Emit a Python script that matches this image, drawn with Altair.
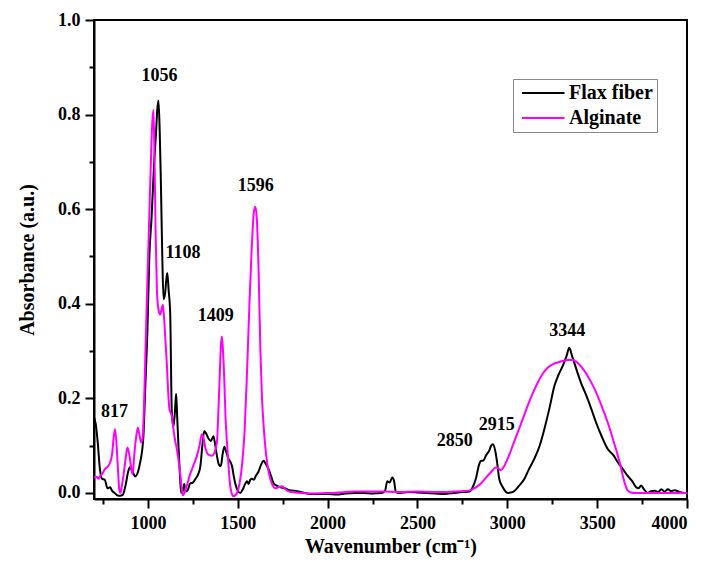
import altair as alt
import pandas as pd

# ---- data ----
flax_x = [700, 710, 720, 733, 745, 760, 775, 790, 800, 815, 830, 845, 860, 875, 890, 900, 915, 929, 945, 957,
          968, 975, 985, 997, 1008, 1020, 1035, 1045, 1052, 1059, 1066, 1072, 1080, 1087, 1095, 1102, 1108, 1115,
          1124, 1133, 1142, 1150, 1157, 1163, 1170, 1178, 1185, 1195, 1202, 1210, 1220, 1235, 1250, 1265, 1280,
          1292, 1303, 1313, 1325, 1337, 1350, 1365, 1375, 1384, 1395, 1406, 1415, 1425, 1437, 1449, 1460, 1468,
          1478, 1486, 1500, 1514, 1528, 1542, 1552, 1560, 1570, 1579, 1590, 1600, 1615, 1630, 1644, 1658, 1672,
          1686, 1700, 1720, 1737, 1760, 1790, 1812, 1850, 1900, 1950, 2000, 2050, 2100, 2150, 2200, 2250, 2300,
          2320, 2332, 2345, 2360, 2370, 2380, 2400, 2450, 2500, 2550, 2600, 2650, 2700, 2750, 2790, 2806, 2825,
          2843, 2855, 2865, 2881, 2900, 2910, 2920, 2935, 2946, 2955, 2975, 3002, 3020, 3039, 3065, 3094, 3120,
          3150, 3180, 3206, 3235, 3262, 3285, 3308, 3330, 3345, 3360, 3373, 3390, 3410, 3430, 3448, 3470, 3494,
          3525, 3559, 3590, 3615, 3640, 3670, 3695, 3717, 3730, 3745, 3760, 3782, 3800, 3820, 3840, 3857, 3875,
          3894, 3912, 3931, 3960, 3987, 4000]
flax_y = [0.16, 0.145, 0.11, 0.05, 0.03, 0.028, 0.01, 0.012, 0.005, 0.0, -0.005, -0.006, -0.004, 0.015, 0.045,
          0.055, 0.045, 0.035, 0.045, 0.065, 0.09, 0.12, 0.22, 0.34, 0.5, 0.58, 0.7, 0.76, 0.81, 0.83, 0.76, 0.66,
          0.5, 0.41, 0.42, 0.45, 0.465, 0.43, 0.38, 0.17, 0.14, 0.17, 0.21, 0.16, 0.1, 0.04, 0.0, 0.005, 0.019,
          0.003, 0.005, 0.02, 0.022, 0.03, 0.04, 0.057, 0.1, 0.131, 0.125, 0.115, 0.11, 0.12, 0.1, 0.079, 0.06,
          0.057, 0.08, 0.098, 0.085, 0.072, 0.065, 0.057, 0.035, 0.02, 0.005, 0.0, 0.008, 0.02, 0.025, 0.019,
          0.028, 0.03, 0.028, 0.036, 0.045, 0.06, 0.068, 0.06, 0.05, 0.035, 0.02, 0.015, 0.012, 0.01, 0.006,
          0.005, 0.002, -0.002, -0.002, -0.002, -0.003, -0.001, 0.0, 0.0, -0.001, 0.0, 0.005, 0.025, 0.022,
          0.033, 0.025, 0.002, 0.0, 0.002, 0.001, 0.0, -0.001, -0.002, 0.0, 0.002, 0.003, 0.011, 0.03, 0.06,
          0.068, 0.068, 0.079, 0.09, 0.1, 0.103, 0.085, 0.057, 0.03, 0.012, 0.0, 0.001, 0.004, 0.015, 0.029,
          0.05, 0.072, 0.1, 0.135, 0.18, 0.226, 0.25, 0.268, 0.29, 0.307, 0.29, 0.275, 0.255, 0.233, 0.215,
          0.198, 0.175, 0.149, 0.12, 0.093, 0.08, 0.065, 0.052, 0.036, 0.025, 0.012, 0.01, 0.016, 0.008, 0.0,
          0.004, 0.005, 0.002, 0.008, 0.003, 0.008, 0.004, 0.006, 0.002, 0.0, 0.0]

alg_x = [700, 715, 725, 733, 745, 760, 780, 790, 800, 810, 817, 824, 832, 840, 847, 855, 865, 877, 886, 893,
         901, 910, 916, 922, 929, 937, 944, 952, 962, 970, 978, 985, 995, 1005, 1015, 1024, 1031, 1037, 1043,
         1050, 1058, 1068, 1077, 1083, 1090, 1098, 1105, 1112, 1120, 1126, 1133, 1142, 1152, 1161, 1170, 1180,
         1188, 1195, 1207, 1220, 1235, 1245, 1260, 1273, 1287, 1300, 1310, 1320, 1328, 1340, 1356, 1370, 1384,
         1393, 1399, 1406, 1412, 1418, 1425, 1432, 1440, 1450, 1458, 1466, 1473, 1485, 1496, 1510, 1524, 1538,
         1552, 1565, 1578, 1590, 1598, 1606, 1616, 1626, 1635, 1644, 1658, 1672, 1690, 1709, 1725, 1745, 1760,
         1775, 1800, 1850, 1900, 2000, 2100, 2150, 2200, 2300, 2400, 2500, 2600, 2700, 2760, 2797, 2825, 2853,
         2880, 2909, 2936, 2950, 2964, 2980, 3002, 3030, 3058, 3085, 3113, 3141, 3169, 3197, 3225, 3252, 3280,
         3308, 3336, 3364, 3392, 3420, 3448, 3475, 3503, 3531, 3559, 3587, 3615, 3630, 3643, 3656, 3670, 3690,
         3708, 3800, 3900, 4000]
alg_y = [0.033, 0.034, 0.03, 0.035, 0.04, 0.05, 0.057, 0.065, 0.08, 0.12, 0.135, 0.11, 0.06, 0.01, 0.0, 0.015,
         0.04, 0.075, 0.096, 0.088, 0.07, 0.045, 0.04, 0.07, 0.1, 0.125, 0.138, 0.125, 0.107, 0.115, 0.18, 0.28,
         0.42, 0.55, 0.68, 0.78, 0.81, 0.7, 0.55, 0.43, 0.39, 0.377, 0.39, 0.398, 0.37, 0.32, 0.275, 0.22, 0.177,
         0.17, 0.163, 0.135, 0.11, 0.093, 0.07, 0.04, 0.01, -0.005, 0.005, 0.02, 0.04, 0.05, 0.065, 0.079, 0.1,
         0.124, 0.115, 0.095, 0.086, 0.08, 0.079, 0.085, 0.107, 0.18, 0.24, 0.31, 0.331, 0.3, 0.24, 0.16, 0.107,
         0.05, 0.015, 0.0, -0.007, -0.005, 0.0, 0.02, 0.06, 0.13, 0.26, 0.4, 0.52, 0.595, 0.605, 0.58, 0.47, 0.3,
         0.2, 0.142, 0.08, 0.044, 0.02, 0.01, 0.012, 0.014, 0.01, 0.005, 0.002, 0.0, -0.001, 0.0, 0.002, 0.003,
         0.003, 0.003, 0.002, 0.003, 0.002, 0.003, 0.004, 0.006, 0.012, 0.02, 0.032, 0.044, 0.054, 0.052, 0.048,
         0.055, 0.072, 0.1, 0.128, 0.155, 0.184, 0.21, 0.233, 0.252, 0.265, 0.272, 0.276, 0.279, 0.281, 0.281,
         0.275, 0.263, 0.247, 0.228, 0.205, 0.178, 0.149, 0.115, 0.079, 0.058, 0.036, 0.018, 0.005, 0.001, 0.0,
         0.0, 0.0, 0.0]

series_names = ["Flax fiber", "Alginate"]
series_colors = ["#000000", "#ff00ff"]

peak_labels = ["817", "1056", "1108", "1409", "1596", "2850", "2915", "3344"]
peak_label_x = [814, 1065, 1195, 1377, 1600, 2708, 2941, 3334]
peak_label_y = [0.172, 0.882, 0.508, 0.375, 0.648, 0.109, 0.143, 0.343]

x_ticks = [750, 1000, 1250, 1500, 1750, 2000, 2250, 2500, 2750, 3000, 3250, 3500, 3750, 4000]
y_ticks = [0.0, 0.1, 0.2, 0.3, 0.4, 0.5, 0.6, 0.7, 0.8, 0.9, 1.0]

# ---- tables ----
df = pd.concat([
    pd.DataFrame({"wn": flax_x, "abs": flax_y, "series": series_names[0], "order": range(len(flax_x))}),
    pd.DataFrame({"wn": alg_x, "abs": alg_y, "series": series_names[1], "order": range(len(alg_x))}),
])
labels_df = pd.DataFrame({"wn": peak_label_x, "abs": peak_label_y, "text": peak_labels})

FONT = "Liberation Serif"
xscale = alt.Scale(domain=[700, 4000], nice=False, zero=False)
yscale = alt.Scale(domain=[-0.0127, 1.0], nice=False, zero=False)

x_major_test = "datum.value % 500 === 0"
y_major_test = "round(datum.value * 10) % 2 === 0"

lines = alt.Chart(df).mark_line(strokeWidth=2, interpolate="monotone").encode(
    x=alt.X("wn:Q", scale=xscale,
            axis=alt.Axis(values=x_ticks, title="Wavenumber (cm⁻¹)",
                          labelExpr=f"{x_major_test} ? format(datum.value, 'd') : ''",
                          tickSize={"condition": {"test": x_major_test, "value": 9}, "value": 5},
                          labelPadding=6, titlePadding=4, orient="bottom")),
    y=alt.Y("abs:Q", scale=yscale,
            axis=alt.Axis(values=y_ticks, title="Absorbance (a.u.)",
                          labelExpr=f"{y_major_test} ? format(datum.value, '.1f') : ''",
                          tickSize={"condition": {"test": y_major_test, "value": 9}, "value": 5},
                          labelPadding=5, titlePadding=20, orient="left")),
    color=alt.Color("series:N",
                    scale=alt.Scale(domain=series_names, range=series_colors),
                    legend=alt.Legend(title=None, orient="none", legendX=419, legendY=59,
                                      symbolType="M-1,0H7.5", symbolSize=100, symbolStrokeWidth=2,
                                      labelFont=FONT, labelFontWeight="bold", labelFontSize=20,
                                      labelColor="black", strokeColor="#888888", padding=4,
                                      rowPadding=5, labelOffset=32, fillColor="white")),
    order="order:Q",
)

texts = alt.Chart(labels_df).mark_text(font=FONT, fontWeight="bold", fontSize=18, color="black",
                                       align="center", baseline="middle").encode(
    x=alt.X("wn:Q", scale=xscale),
    y=alt.Y("abs:Q", scale=yscale),
    text="text:N",
)

chart = alt.layer(lines, texts).properties(
    width=593, height=479,
    background="white",
    autosize=alt.AutoSizeParams(type="none"),
    padding={"left": 94, "top": 20, "right": 20, "bottom": 68},
).configure_view(stroke="black", strokeWidth=2).configure_axis(
    grid=False, domainColor="black", domainWidth=2, tickColor="black", tickWidth=2,
    labelFont=FONT, labelFontWeight="bold", labelFontSize=18, labelColor="black",
    titleFont=FONT, titleFontWeight="bold", titleFontSize=20, titleColor="black",
)

chart.save("out.html", embed_options={"renderer": "svg", "actions": False})
